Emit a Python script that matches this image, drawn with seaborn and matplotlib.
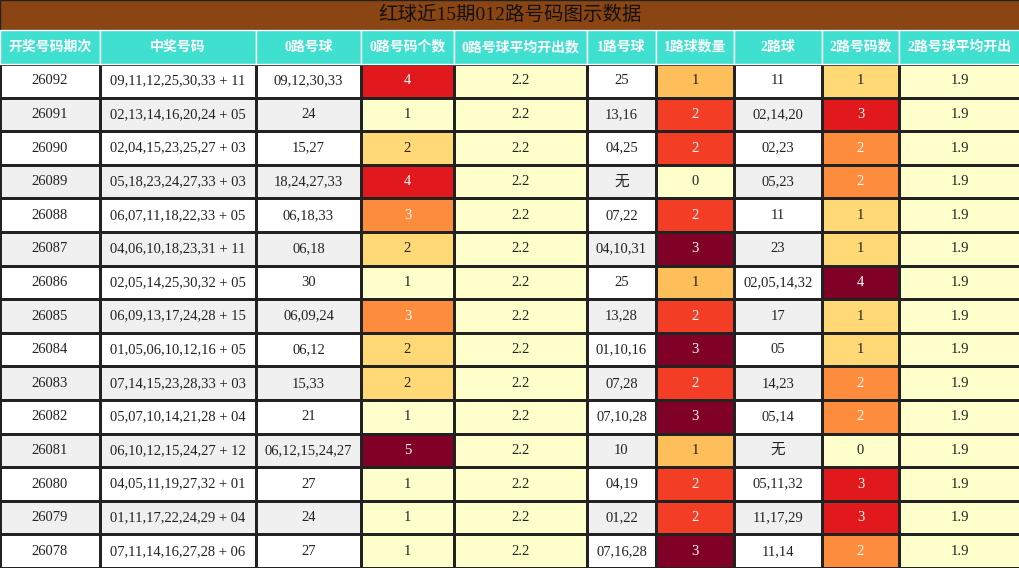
import matplotlib
matplotlib.use("Agg")
import matplotlib.pyplot as plt
import seaborn as sns
import numpy as np
from matplotlib.colors import ListedColormap
from matplotlib.patches import Rectangle

title = "红球近15期012路号码图示数据"
headers = ["开奖号码期次", "中奖号码", "0路号球", "0路号码个数", "0路号球平均开出数",
           "1路号球", "1路球数量", "2路球", "2路号码数", "2路号球平均开出"]
issues = ["26092","26091","26090","26089","26088","26087","26086","26085","26084",
          "26083","26082","26081","26080","26079","26078"]
winning = ["09,11,12,25,30,33 + 11","02,13,14,16,20,24 + 05","02,04,15,23,25,27 + 03",
           "05,18,23,24,27,33 + 03","06,07,11,18,22,33 + 05","04,06,10,18,23,31 + 11",
           "02,05,14,25,30,32 + 05","06,09,13,17,24,28 + 15","01,05,06,10,12,16 + 05",
           "07,14,15,23,28,33 + 03","05,07,10,14,21,28 + 04","06,10,12,15,24,27 + 12",
           "04,05,11,19,27,32 + 01","01,11,17,22,24,29 + 04","07,11,14,16,27,28 + 06"]
balls0 = ["09,12,30,33","24","15,27","18,24,27,33","06,18,33","06,18","30","06,09,24",
          "06,12","15,33","21","06,12,15,24,27","27","24","27"]
count0 = [4,1,2,4,3,2,1,3,2,2,1,5,1,1,1]
avg0 = ["2.2"]*15
balls1 = ["25","13,16","04,25","无","07,22","04,10,31","25","13,28","01,10,16","07,28",
          "07,10,28","10","04,19","01,22","07,16,28"]
count1 = [1,2,2,0,2,3,1,2,3,2,3,1,2,2,3]
balls2 = ["11","02,14,20","02,23","05,23","11","23","02,05,14,32","17","05","14,23",
          "05,14","无","05,11,32","11,17,29","11,14"]
count2 = [1,3,2,2,1,1,4,1,1,2,2,0,3,3,2]
avg2 = ["1.9"]*15

W, H = 1020, 568
bounds = [0,100,256,361,454,587,656,734,822,899,1020]
title_h, head_h = 30, 34
data_top = title_h + head_h
fam = ['Liberation Serif', 'Noto Sans CJK SC']

fig = plt.figure(figsize=(W/100, H/100), dpi=100)
n = len(issues)
parity = np.array([[i % 2] for i in range(n)])
cols = [issues, winning, balls0, count0, avg0, balls1, count1, balls2, count2, avg2]

for j, col in enumerate(cols):
    x0, x1 = bounds[j], bounds[j+1]
    ax = fig.add_axes([x0/W, 0, (x1-x0)/W, (H-data_top)/H])
    labels = [str(v) for v in col]
    if j in (3, 6, 8):
        vals = np.array(col, dtype=float).reshape(-1, 1)
        vmin, vmax = vals.min(), vals.max()
        sns.heatmap(vals, ax=ax, cmap="YlOrRd", vmin=vmin, vmax=vmax, cbar=False,
                    linewidths=0.8, linecolor="#222222", xticklabels=False, yticklabels=False)
        tcolors = ["white" if (v - vmin)/(vmax - vmin) >= 0.5 else "#222222" for v in vals[:, 0]]
    elif j in (4, 9):
        sns.heatmap(np.zeros((n, 1)), ax=ax, cmap=ListedColormap(["#FFFFCC"]), cbar=False,
                    linewidths=0.8, linecolor="#222222", xticklabels=False, yticklabels=False)
        tcolors = ["#222222"]*n
    else:
        sns.heatmap(parity, ax=ax, cmap=ListedColormap(["white", "#F0F0F0"]), vmin=0, vmax=1,
                    cbar=False, linewidths=0.8, linecolor="#222222",
                    xticklabels=False, yticklabels=False)
        tcolors = ["#222222"]*n
    for i, t in enumerate(labels):
        ax.text(0.5, i + 0.5, t, ha="center", va="center", fontsize=10.5,
                color=tcolors[i], family=fam)
    ax.set_xlabel(""); ax.set_ylabel("")

# title bar
fig.patches.append(Rectangle((0, 1 - title_h/H), 1, title_h/H, transform=fig.transFigure,
                             facecolor="#8B4513", edgecolor="#222222", lw=1))
fig.text(0.5, 1 - title_h/2/H, title, ha="center", va="center", fontsize=14,
         color="#111111", family=fam)
# header
for j, h in enumerate(headers):
    x0, x1 = bounds[j], bounds[j+1]
    fig.patches.append(Rectangle((x0/W, (H-data_top)/H), (x1-x0)/W, head_h/H,
                                 transform=fig.transFigure, facecolor="#40E0D0",
                                 edgecolor="white", lw=1))
    fig.text((x0+x1)/2/W, (H - title_h - head_h/2)/H, h, ha="center", va="center",
             fontsize=10, color="white", weight="bold", family=fam)

fig.savefig("out.png", dpi=100)
